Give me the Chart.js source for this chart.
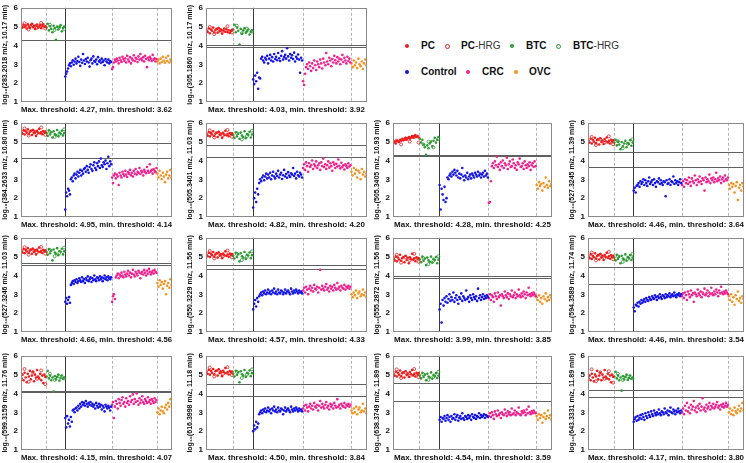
<!DOCTYPE html>
<html><head><meta charset="utf-8">
<script src="https://cdn.jsdelivr.net/npm/chart.js@4"></script>
<style>
body{margin:0;background:#fff;width:746px;height:463px;position:relative;overflow:hidden;font-family:"Liberation Sans",Arial,sans-serif;}
.lg{position:absolute;font-size:10px;font-weight:bold;line-height:12px;white-space:nowrap;color:#111;}
.lg span{font-weight:normal;color:#333;}
.dot{position:absolute;border-radius:50%;box-sizing:border-box;}
</style></head><body>
<script>
// ---------- data ----------
const mzLabels = ["283.2018","305.1860","384.2633","505.3401","505.3405","527.3245","527.3246","550.3229","555.2872","594.3589","599.3159","616.3998","638.3749","643.3331"];
const rtLabels = ["10.17","10.17","10.80","11.03","10.93","11.39","11.03","11.56","11.56","11.74","11.76","11.18","11.89","11.89"];
const maxThresholds = [4.27,4.03,4.95,4.82,4.28,4.46,4.66,4.57,3.99,4.46,4.15,4.50,4.54,4.17];
const minThresholds = [3.62,3.92,4.14,4.20,4.25,3.64,4.56,4.33,3.85,3.54,4.07,3.84,3.59,3.80];
const yTicks = [1,2,3,4,5,6];
const groupNames = ["PC","PC-HRG","BTC","BTC-HRG","Control","CRC","OVC"];

const pcValues = [
[5.02,4.95,5.10,4.98,5.05,4.90,5.12,5.00,4.93,5.08,5.15,4.97,5.03,4.88,5.06,5.11,4.96,5.01,5.09,4.92,5.04,5.13,4.99,5.02],
[4.80,4.72,4.90,4.65,4.85,4.78,4.95,4.70,4.82,4.88,4.68,4.92,4.75,4.84,4.62,4.79,4.90,4.73,4.86,4.70,4.81,4.66,4.76,4.83],
[5.50,5.42,5.60,5.38,5.55,5.48,5.65,5.40,5.52,5.58,5.35,5.62,5.45,5.53,5.30,5.57,5.47,5.68,5.44,5.51,5.39,5.56,5.49,5.54],
[5.40,5.32,5.50,5.28,5.45,5.38,5.55,5.30,5.42,5.48,5.25,5.52,5.35,5.43,5.20,5.47,5.37,5.58,5.34,5.41,5.29,5.46,5.39,5.44],
[4.95,5.00,4.90,5.05,5.02,4.98,5.10,5.05,5.15,5.08,5.12,5.20,5.10,5.18,5.25,5.15,5.22,5.30,5.20,5.28,5.35,5.25,5.30,5.22],
[5.05,4.95,5.15,4.90,5.10,5.00,5.20,4.92,5.08,5.12,4.85,5.18,4.98,5.06,4.88,5.14,5.02,5.22,4.96,5.04,4.90,5.10,5.00,5.08],
[5.30,5.22,5.40,5.18,5.35,5.28,5.45,5.20,5.32,5.38,5.15,5.42,5.25,5.33,5.12,5.37,5.27,5.48,5.24,5.31,5.19,5.36,5.29,5.34],
[5.10,5.02,5.20,4.98,5.15,5.08,5.25,5.00,5.12,5.18,4.95,5.22,5.05,5.13,4.92,5.17,5.07,5.28,5.04,5.11,4.99,5.16,5.09,5.14],
[4.90,4.80,5.00,4.75,4.95,4.85,5.10,4.78,4.92,4.98,4.70,5.05,4.82,4.94,4.65,4.97,4.86,5.15,4.84,4.91,4.76,4.96,4.88,4.93],
[5.00,4.92,5.12,4.88,5.05,4.97,5.18,4.90,5.03,5.08,4.85,5.14,4.95,5.04,4.82,5.09,4.99,5.20,4.94,5.02,4.89,5.07,4.98,5.05],
[4.80,5.00,4.70,5.10,4.85,4.60,5.05,4.90,5.20,4.75,4.95,5.15,4.65,5.00,4.85,5.25,4.90,4.80,5.05,4.70,4.95,4.55,5.00,4.88],
[5.15,5.05,5.25,5.00,5.20,5.10,5.30,5.02,5.18,5.22,4.95,5.28,5.08,5.16,4.92,5.21,5.11,5.35,5.07,5.14,5.01,5.19,5.12,5.17],
[5.05,4.95,5.15,4.90,5.10,5.00,5.22,4.92,5.08,5.12,4.85,5.18,4.98,5.06,4.88,5.14,5.02,5.25,4.96,5.04,4.90,5.10,5.00,5.08],
[4.80,4.95,4.70,5.05,4.85,4.65,5.00,4.90,5.20,4.75,4.95,5.10,4.70,5.00,4.85,5.25,4.90,4.80,5.05,4.75,4.95,4.60,5.00,4.88]];

const pcHrgValues = [
[5.18,4.85,5.07,4.94,5.20,4.90],[4.98,4.60,4.88,4.74,5.02,4.69],[5.70,5.32,5.58,5.44,5.75,5.36],[5.60,5.22,5.48,5.33,5.62,5.26],
[5.05,4.85,5.15,5.00,5.25,4.95],[5.25,4.82,5.12,4.94,5.28,4.86],[5.50,5.10,5.38,5.23,5.52,5.16],[5.30,4.90,5.18,5.03,5.32,4.96],
[5.10,4.68,4.98,4.80,5.15,4.72],[5.22,4.80,5.10,4.93,5.25,4.86],[5.30,4.62,5.12,4.78,5.22,4.50],[5.38,4.90,5.22,5.04,5.40,4.98],
[5.28,4.82,5.12,4.94,5.30,4.86],[5.28,4.65,5.12,4.78,5.18,4.58]];

const btcValues = [
[4.95,5.15,4.80,5.02,4.88,4.70,5.05,4.92,4.30,5.00,4.85,4.98,5.08,4.75,4.93,5.01],
[4.85,5.10,4.70,4.95,4.78,4.05,4.88,4.62,4.80,4.92,4.68,4.75,4.85,4.58,4.72,4.80],
[5.45,5.30,5.60,5.38,5.50,5.22,5.55,5.40,5.35,5.62,5.28,5.48,5.42,5.58,5.33,5.46],
[5.35,5.20,5.50,5.28,5.42,5.15,5.48,5.32,5.25,5.55,5.18,5.40,5.36,5.52,5.22,5.38],
[5.15,4.95,5.10,4.85,4.70,4.30,4.80,4.65,4.90,5.00,4.75,5.05,5.20,4.95,5.10,5.25],
[4.95,5.10,4.80,5.00,4.85,4.60,4.98,4.75,4.90,5.05,4.70,4.92,4.88,5.08,4.78,4.95],
[5.25,5.10,5.40,5.18,5.32,4.80,5.38,5.22,5.15,5.45,5.08,5.30,5.26,5.42,5.12,5.28],
[5.05,4.90,5.20,4.98,5.12,4.75,5.18,5.02,4.95,5.25,4.88,5.10,5.06,5.22,4.92,5.08],
[4.85,4.70,5.00,4.78,4.90,4.55,4.95,4.80,4.72,5.00,4.68,4.88,4.82,4.98,4.65,4.84],
[4.95,4.80,5.10,4.88,5.00,4.65,5.05,4.90,4.85,5.12,4.78,4.98,4.92,5.08,4.82,4.95],
[4.90,5.20,4.80,4.95,4.70,4.85,4.10,4.92,4.75,4.88,5.00,4.68,4.82,4.95,4.78,4.85],
[5.05,4.90,5.20,4.98,5.12,4.60,5.18,5.02,4.95,5.25,4.88,5.10,5.06,5.22,4.92,5.08],
[4.95,4.80,5.10,4.88,5.00,4.70,5.05,4.90,4.85,5.12,4.78,4.98,4.92,5.08,4.82,4.95],
[4.90,5.15,4.80,4.95,4.70,4.85,4.15,4.92,4.75,4.88,5.00,4.72,4.82,4.95,4.78,4.85]];

const btcHrgValues = [
[5.10,4.82,4.96,4.88],[5.05,4.65,4.90,4.74],[5.52,5.25,5.40,5.65],[5.45,5.12,5.30,5.58],[4.85,5.00,4.70,5.15],
[5.02,4.65,4.88,5.12],[5.35,5.02,5.20,5.48],[5.15,4.82,5.00,5.28],[4.92,4.60,4.78,5.02],[5.02,4.72,4.88,5.15],
[5.05,4.72,4.90,4.80],[5.15,4.82,5.00,5.28],[5.02,4.72,4.88,5.15],[5.05,4.72,4.90,4.80]];

const controlValues = [
[2.35,2.50,2.62,2.78,2.95,3.05,2.90,3.10,3.22,2.98,3.15,3.30,3.05,3.18,3.40,3.12,2.92,3.25,3.08,3.55,3.20,3.02,3.28,3.15,3.35,3.10,2.88,3.22,3.30,3.05,3.42,3.18,3.12,3.25,3.00,3.38,3.15,3.22,3.08,3.30,3.12,3.20,2.95,3.28,3.15,3.10,3.25,3.05,3.18,3.12],
[2.20,1.95,2.40,2.10,2.55,1.70,2.30,2.25,3.30,3.40,3.20,3.10,3.35,3.25,3.45,3.05,3.30,3.50,3.20,3.38,3.15,3.55,3.28,3.40,3.22,3.60,3.32,3.18,3.45,3.70,3.25,3.38,3.50,3.30,3.85,3.42,3.20,3.55,3.35,3.48,3.28,3.62,3.15,3.40,3.30,3.52,3.25,2.55,3.35,3.20],
[1.40,2.30,2.10,2.50,2.40,2.20,3.00,3.10,2.90,3.20,3.30,3.05,3.25,3.40,3.15,3.35,3.50,3.20,3.45,3.30,3.55,3.60,3.40,3.70,3.50,3.35,3.65,3.80,3.55,3.45,3.75,3.90,3.60,3.50,3.85,3.70,3.95,3.60,4.10,3.75,3.65,3.90,3.80,4.00,3.55,3.85,4.20,3.70,3.95,3.80],
[1.50,2.00,2.30,1.80,2.50,2.20,2.80,3.00,2.90,3.10,3.20,2.95,3.15,3.30,3.05,3.25,3.10,3.35,3.00,3.20,3.40,3.15,3.05,3.30,3.18,3.45,3.10,3.25,3.35,3.02,3.22,3.50,3.15,3.28,3.08,3.38,3.20,3.12,3.32,3.25,3.60,3.18,3.30,3.05,3.40,3.22,3.15,3.35,3.25,3.10],
[2.70,1.40,2.50,2.20,1.90,2.60,1.80,2.00,3.10,3.00,3.20,3.30,3.15,3.40,3.25,3.50,3.35,3.20,3.45,3.10,3.30,3.05,3.25,3.60,3.15,2.95,3.20,3.10,3.35,3.00,3.15,3.25,3.05,3.30,3.20,3.10,3.35,3.25,3.15,3.40,3.20,3.30,3.10,3.25,3.35,3.15,3.45,3.20,3.30,3.10],
[2.40,2.55,2.30,2.65,2.70,2.80,2.60,2.90,2.75,2.85,3.00,2.70,2.95,2.80,2.65,2.90,3.10,2.75,2.85,2.95,2.70,3.00,2.80,2.60,2.90,2.85,3.05,2.75,2.95,2.80,2.70,2.90,2.85,2.10,2.95,2.75,2.80,3.00,2.70,2.90,2.85,3.15,2.75,2.95,2.80,2.90,2.70,2.85,3.00,2.80],
[2.60,2.80,2.50,2.70,2.85,2.55,3.50,3.60,3.70,3.55,3.75,3.65,3.80,3.60,3.70,3.85,3.75,3.65,3.90,3.70,3.80,3.60,3.85,3.75,3.95,3.70,3.80,3.90,3.65,3.85,3.75,4.00,3.80,3.70,3.90,3.85,3.75,3.95,3.80,3.90,3.70,3.85,4.00,3.80,3.90,3.75,3.95,3.85,3.80,3.90],
[2.20,2.50,2.70,2.35,2.80,2.60,2.90,3.00,3.10,2.95,3.15,3.05,3.20,3.00,3.10,3.25,3.05,3.15,3.00,3.20,3.10,3.30,3.05,3.15,3.00,3.25,3.10,3.05,3.20,3.15,3.00,3.10,3.25,3.05,3.15,3.20,3.10,3.00,3.30,3.15,3.05,3.20,3.10,3.25,3.15,3.05,3.20,3.10,3.15,3.05],
[2.20,2.50,1.50,2.70,2.40,2.80,2.60,2.90,2.55,2.75,3.00,2.65,2.85,2.70,3.10,2.60,2.80,2.95,2.70,2.50,2.85,2.75,3.05,2.65,2.90,2.80,2.70,3.20,2.75,2.85,2.60,2.95,2.80,2.70,3.00,2.85,2.75,2.90,2.65,3.30,2.80,2.95,2.70,2.85,3.00,2.75,2.90,2.80,2.95,2.85],
[2.30,2.10,2.45,2.40,2.55,2.35,2.60,2.50,2.70,2.55,2.65,2.75,2.60,2.80,2.70,2.65,2.85,2.75,2.70,2.90,2.80,2.75,2.95,2.85,2.70,2.90,2.80,3.00,2.85,2.75,2.95,2.90,2.80,3.00,2.85,2.95,2.90,3.05,2.85,2.95,3.00,2.90,3.10,2.95,2.85,3.00,2.95,3.05,2.90,3.00],
[2.70,2.20,2.80,2.40,2.60,2.25,2.75,2.50,3.10,3.15,3.00,3.20,3.25,3.10,3.35,3.20,3.45,3.30,3.55,3.40,3.50,3.35,3.60,3.45,3.30,3.50,3.40,3.55,3.35,3.45,3.30,3.40,3.20,3.50,3.35,3.25,3.45,3.30,3.40,3.15,3.35,3.25,3.05,3.40,3.30,3.20,3.35,3.25,3.10,3.30],
[2.00,2.30,2.10,2.50,2.20,2.40,2.90,3.00,3.10,2.95,3.15,3.05,3.20,3.00,3.10,3.25,3.05,3.15,2.95,3.20,3.10,3.30,3.05,3.15,3.00,3.25,3.10,3.05,3.20,3.15,2.90,3.10,3.25,3.05,3.15,3.20,3.10,3.00,3.30,3.15,3.05,3.20,3.10,3.25,3.15,3.05,3.20,3.10,3.15,3.05],
[2.60,2.75,2.50,2.70,2.65,2.80,2.55,2.70,2.85,2.60,2.75,2.50,2.80,2.65,2.70,2.90,2.60,2.75,2.85,2.55,2.70,2.80,2.65,2.95,2.70,2.60,2.80,2.75,2.65,2.85,2.70,2.80,2.60,2.90,2.75,2.70,2.85,2.65,2.80,2.75,2.95,2.70,2.85,2.75,2.80,2.90,2.70,2.85,2.80,2.75],
[2.50,2.65,2.75,2.55,2.80,2.60,2.70,2.85,2.65,2.90,2.75,2.60,2.95,2.80,2.70,3.00,2.85,2.75,3.05,2.90,2.80,3.10,2.95,2.85,3.00,2.90,3.15,2.95,2.85,3.05,3.00,2.90,3.20,3.00,2.95,3.10,2.85,3.05,3.25,3.00,2.95,3.15,3.05,2.90,3.10,3.00,3.20,3.05,2.95,3.10]];

const crcValues = [
[2.75,2.85,3.10,3.25,3.15,3.30,3.20,3.05,3.35,3.22,3.12,3.40,3.28,3.18,3.32,3.10,3.45,3.25,3.15,3.38,3.05,3.30,3.22,3.48,3.18,3.35,3.28,3.12,3.42,3.25,3.55,3.30,3.20,3.38,3.15,3.45,3.28,2.85,3.35,3.22,3.40,3.30,3.18,3.50,3.25,3.32,3.15,3.28],
[2.10,1.90,2.50,2.85,3.00,2.75,3.10,2.90,2.65,3.05,2.80,3.20,2.95,2.70,3.15,3.00,2.85,3.25,3.05,2.78,3.30,3.10,2.95,3.60,3.15,3.00,3.35,3.20,2.90,3.28,3.10,3.45,3.22,3.05,3.38,3.15,3.30,3.00,3.25,3.50,3.12,3.35,3.20,3.05,3.40,3.18,3.30,3.10],
[3.10,2.80,3.20,3.30,3.05,3.25,3.15,2.70,3.35,3.20,3.10,3.40,3.28,3.18,3.45,3.25,3.12,3.38,3.30,3.50,3.22,3.35,3.15,3.45,3.30,3.55,3.25,3.40,3.35,3.60,3.28,3.45,3.38,3.20,3.50,3.40,3.32,3.65,3.45,3.35,3.80,3.42,3.50,3.30,3.55,3.45,3.38,3.60],
[3.60,3.80,3.50,3.90,3.70,3.40,3.85,3.65,3.75,4.00,3.55,3.80,3.70,3.95,3.60,3.75,3.85,3.50,3.90,3.70,4.10,3.65,3.80,3.55,3.75,3.95,3.62,3.85,3.70,3.45,3.90,3.78,3.60,3.82,3.68,4.05,3.72,3.58,3.88,3.65,3.75,3.52,3.80,3.70,3.60,3.85,3.68,3.75],
[1.75,1.80,2.90,3.70,3.85,3.60,3.95,3.75,4.20,3.65,3.80,3.50,3.90,3.70,4.00,3.60,3.85,3.75,4.15,3.55,3.80,3.95,3.65,3.70,4.05,3.85,3.60,3.75,3.50,3.90,3.80,4.10,3.65,3.70,3.85,3.55,3.95,3.75,3.60,3.80,3.70,3.90,3.50,3.75,3.85,3.65,3.95,3.70],
[2.70,2.90,2.60,3.00,2.80,2.95,2.75,3.10,2.85,2.65,3.05,2.90,2.80,3.20,2.95,2.70,3.00,2.85,3.15,2.90,2.75,3.05,2.95,2.40,3.10,2.85,3.00,2.90,3.25,2.80,3.05,2.95,3.10,2.85,3.00,3.35,2.90,3.05,2.95,3.15,2.80,3.00,3.10,2.90,3.20,3.00,2.95,3.10],
[2.60,2.90,3.00,2.75,3.90,4.00,4.10,3.85,4.05,3.95,4.15,4.00,3.90,4.20,4.05,3.95,4.10,4.25,4.00,4.15,3.90,4.10,4.30,4.05,3.95,4.20,4.10,4.00,4.25,4.15,3.85,4.10,4.20,4.05,4.30,4.15,4.00,4.25,4.10,4.35,4.20,4.05,4.15,4.25,4.10,4.30,4.20,4.15],
[3.20,3.35,3.10,3.40,3.25,3.00,3.30,3.45,3.20,3.35,3.15,3.50,3.30,3.25,3.40,3.10,3.35,4.30,3.25,3.45,3.30,3.20,3.40,3.55,3.25,3.35,3.15,3.45,3.30,3.40,3.20,3.50,3.35,3.25,3.60,3.30,3.40,3.20,3.45,3.35,3.30,3.50,3.25,3.40,3.35,3.45,3.30,3.40],
[2.80,3.00,2.70,2.95,2.85,2.60,3.05,2.90,2.75,3.10,2.85,2.95,2.40,3.00,2.90,2.80,3.15,2.95,2.85,3.05,2.75,3.00,2.90,3.20,2.85,2.95,3.10,2.80,3.00,2.90,3.25,2.95,2.85,3.05,2.90,3.15,3.00,2.80,3.10,2.95,3.35,3.00,2.90,3.05,2.95,3.10,3.00,2.90],
[2.90,3.05,2.80,3.10,2.95,2.70,3.15,3.00,2.85,3.20,2.95,3.05,2.60,3.10,3.00,2.90,3.25,3.05,2.95,3.15,2.85,3.10,3.00,3.30,2.95,3.05,3.20,2.90,3.10,3.00,3.35,3.05,2.95,3.15,3.00,3.25,3.10,2.90,3.20,3.05,3.40,3.10,3.00,3.15,3.05,3.20,3.10,3.00],
[3.40,3.55,2.70,3.30,3.60,3.45,3.20,3.70,3.50,3.35,3.65,3.80,3.45,3.55,3.30,3.75,3.50,3.60,3.40,3.85,3.55,3.65,3.95,3.45,3.70,3.55,4.00,3.60,3.40,3.75,3.50,3.65,3.85,3.55,3.45,3.70,3.60,3.50,3.80,3.55,3.65,3.45,3.70,3.60,3.50,3.75,3.55,3.65],
[3.20,3.35,3.10,3.40,3.25,3.05,3.30,3.45,3.20,3.35,3.15,3.50,3.30,3.25,3.40,3.10,3.35,3.60,3.25,3.45,3.30,3.20,3.40,3.55,3.25,3.35,3.15,3.45,3.30,3.40,3.20,3.50,3.35,3.25,3.70,3.30,3.40,3.20,3.45,3.35,3.30,3.50,3.25,3.40,3.35,3.45,3.30,3.40],
[2.80,2.95,2.75,3.00,2.85,2.65,3.05,2.90,2.80,3.10,2.85,2.95,2.70,3.00,2.90,2.85,3.15,2.95,2.80,3.05,2.90,3.00,2.85,3.20,2.90,2.95,3.10,2.85,3.00,2.95,3.25,2.90,2.85,3.05,2.95,3.10,3.00,2.85,3.15,2.95,3.30,3.00,2.90,3.05,2.95,3.10,3.00,2.95],
[3.00,3.20,2.90,3.35,3.10,3.50,3.05,3.25,2.95,3.40,3.15,3.30,3.60,3.10,3.25,3.00,3.35,3.20,3.45,3.10,3.30,3.75,3.15,3.25,3.05,3.40,3.20,3.30,3.50,3.15,3.35,3.25,3.45,3.20,3.30,3.40,3.55,3.25,3.35,3.15,3.40,3.30,3.45,3.25,3.35,3.50,3.30,3.40]];

const ovcValues = [
[3.15,3.25,3.05,3.30,3.12,3.40,3.20,3.08,3.35,3.18,3.45,3.10,3.25,3.15],
[3.05,2.85,3.20,2.95,3.10,2.80,3.30,3.00,2.90,3.15,2.75,3.05,3.25,2.95],
[3.30,3.10,3.45,3.20,3.00,3.35,3.15,2.85,3.25,3.40,3.05,3.20,3.50,3.10],
[3.40,3.20,3.60,3.30,3.50,3.10,3.45,3.35,3.00,3.55,3.25,3.40,3.15,3.30],
[2.70,2.50,2.85,2.65,2.75,2.40,2.80,2.60,3.10,2.70,2.55,2.90,2.65,2.75],
[2.70,2.50,2.80,2.60,2.75,2.30,2.65,2.85,1.90,2.55,2.70,2.40,2.80,2.60],
[3.60,3.40,3.75,3.50,3.65,3.30,3.55,3.70,3.00,3.45,3.60,3.35,3.80,3.50],
[3.00,2.85,3.10,2.95,3.20,2.80,3.05,3.15,2.90,3.00,3.25,2.95,3.10,2.85],
[2.85,2.70,2.95,2.60,2.80,2.50,2.90,2.75,3.05,2.65,2.85,2.70,2.95,2.80],
[2.90,2.70,3.00,2.60,2.85,2.45,2.95,2.75,3.15,2.65,2.80,2.55,2.90,2.75],
[3.00,3.20,2.90,3.10,3.30,3.05,2.95,3.25,3.40,3.15,3.50,3.30,3.70,3.45],
[3.10,2.95,3.20,3.00,3.30,2.90,3.15,3.25,3.00,3.10,3.45,3.05,3.20,2.95],
[2.80,2.60,2.90,2.70,2.85,2.45,2.75,2.95,2.65,2.80,3.10,2.70,2.85,2.60],
[3.00,3.20,2.90,3.10,2.85,3.25,3.05,2.95,3.15,3.35,3.05,3.20,3.50,3.10]];

// ---------- layout / style ----------
const FONT = '"Liberation Sans", Arial, "DejaVu Sans", sans-serif';
const colBox = [[21,172],[206,367],[393,552],[588,744]];
const rowBox = [[5,102],[120,217],[235,332],[353,450]];
const panelCell = [[0,0],[0,1],[1,0],[1,1],[1,2],[1,3],[2,0],[2,1],[2,2],[2,3],[3,0],[3,1],[3,2],[3,3]];
// which threshold lines are drawn in each panel
const drawnLines = [['max'],['max','min'],['max','min'],['max','min'],['max','min'],['max','min'],['max','min'],['max','min'],['max','min'],['max','min'],['max','min'],['max','min'],['max','min'],['max','min']];
const groupBounds = [0,16.5,29,60,90,100];
const colors = {pc:'#ee1c1c', btc:'#2e9a36', control:'#1414e6', crc:'#f0208e', ovc:'#f5921e'};
const AX_W = 22, AX_H = 13, PAD_T = 5, PAD_R = 4;

function place(vals, a, b, shift){
  const n = vals.length, step = (b - a) / n;
  return vals.map((v, i) => ({x: a + (i + 0.5 + shift) * step, y: v}));
}

const guides = {
  id: 'guides',
  beforeDatasetsDraw(chart, args, opts){
    const {ctx, chartArea:{left,right,top,bottom}, scales:{x,y}} = chart;
    ctx.save();
    ctx.lineWidth = 1;
    [groupBounds[1], groupBounds[3], groupBounds[4]].forEach(v => {
      const px = Math.round(x.getPixelForValue(v)) + 0.5;
      ctx.strokeStyle = '#b4b4b4'; ctx.setLineDash([3,2]);
      ctx.beginPath(); ctx.moveTo(px, top); ctx.lineTo(px, bottom); ctx.stroke();
    });
    ctx.setLineDash([]);
    const sx = Math.round(x.getPixelForValue(groupBounds[2])) + 0.5;
    ctx.strokeStyle = '#3a3a3a';
    ctx.beginPath(); ctx.moveTo(sx, top); ctx.lineTo(sx, bottom); ctx.stroke();
    ctx.strokeStyle = '#606060';
    opts.lines.forEach(v => {
      const py = Math.round(y.getPixelForValue(v)) + 0.5;
      ctx.beginPath(); ctx.moveTo(left, py); ctx.lineTo(right, py); ctx.stroke();
    });
    ctx.restore();
  },
  afterDatasetsDraw(chart){
    const {ctx, chartArea:{left,right,top,bottom}} = chart;
    ctx.save();
    ctx.strokeStyle = '#8a8a8a'; ctx.lineWidth = 1;
    ctx.strokeRect(Math.round(left)+0.5, Math.round(top)+0.5, Math.round(right-left)-1, Math.round(bottom-top)-1);
    ctx.restore();
  }
};

function filled(label, data, color){
  return {label, data, backgroundColor: color, borderColor: color, pointRadius: 1.3, pointBorderWidth: 0, pointHoverRadius: 1.3};
}
function open(label, data, color){
  return {label, data, backgroundColor: 'rgba(255,255,255,0)', borderColor: color, pointRadius: 1.5, pointBorderWidth: 0.8, pointHoverRadius: 1.5};
}

panelCell.forEach(([r, c], k) => {
  const [L, R] = colBox[c], [T, B] = rowBox[r];
  const w = R - L + AX_W + PAD_R, h = B - T + PAD_T + AX_H;
  const cv = document.createElement('canvas');
  cv.width = w; cv.height = h;
  cv.style.cssText = `position:absolute;left:${L-AX_W}px;top:${T-PAD_T}px;width:${w}px;height:${h}px`;
  document.body.appendChild(cv);
  const g = groupBounds;
  const lines = drawnLines[k].map(n => n === 'max' ? maxThresholds[k] : minThresholds[k]);
  new Chart(cv, {
    type: 'scatter',
    data: {datasets: [
      filled(groupNames[0], place(pcValues[k], g[0], g[1], 0), colors.pc),
      open(groupNames[1], place(pcHrgValues[k], g[0], g[1], 0.35), colors.pc),
      filled(groupNames[2], place(btcValues[k], g[1], g[2], 0), colors.btc),
      open(groupNames[3], place(btcHrgValues[k], g[1], g[2], 0.35), colors.btc),
      filled(groupNames[4], place(controlValues[k], g[2], g[3], 0), colors.control),
      filled(groupNames[5], place(crcValues[k], g[3], g[4], 0), colors.crc),
      filled(groupNames[6], place(ovcValues[k], g[4], g[5], 0), colors.ovc)
    ]},
    options: {
      responsive: false, animation: false, devicePixelRatio: 1,
      layout: {padding: {top: PAD_T, right: PAD_R, left: 0, bottom: 0}},
      plugins: {legend: {display: false}, tooltip: {enabled: false},
        guides: {lines}},
      scales: {
        x: {type: 'linear', min: 0, max: 100,
          grid: {display: false, drawTicks: false}, border: {display: false},
          ticks: {display: false},
          title: {display: true, text: `Max. threshold: ${maxThresholds[k].toFixed(2)}, min. threshold: ${minThresholds[k].toFixed(2)}`,
            font: {family: FONT, size: 8, weight: 'bold'}, color: '#111', padding: 0},
          afterFit: s => { s.height = AX_H; }},
        y: {min: yTicks[0], max: yTicks[yTicks.length-1],
          afterBuildTicks: s => { s.ticks = yTicks.map(v => ({value: v})); },
          grid: {display: false, drawTicks: false}, border: {display: false},
          ticks: {font: {family: FONT, size: 8, weight: 'bold'}, color: '#111', padding: 3},
          title: {display: true, text: `log\u2081\u2080(${mzLabels[k]} m/z, ${rtLabels[k]} min)`,
            font: {family: FONT, size: 7, weight: 'bold'}, color: '#111', padding: {top: 2, bottom: 0}},
          afterFit: s => { s.width = AX_W; }}
      }
    },
    plugins: [guides]
  });
});

// ---------- legend ----------
const legendItems = [
  {name:'PC', suffix:'', color:colors.pc, open:false, dx:407, tx:421, y:46},
  {name:'PC', suffix:'-HRG', color:colors.pc, open:true, dx:447, tx:461, y:46},
  {name:'BTC', suffix:'', color:colors.btc, open:false, dx:512, tx:526, y:46},
  {name:'BTC', suffix:'-HRG', color:colors.btc, open:true, dx:558, tx:573, y:46},
  {name:'Control', suffix:'', color:colors.control, open:false, dx:407, tx:421, y:72},
  {name:'CRC', suffix:'', color:colors.crc, open:false, dx:468, tx:482, y:72},
  {name:'OVC', suffix:'', color:colors.ovc, open:false, dx:516, tx:529, y:72}
];
legendItems.forEach(it => {
  const d = document.createElement('div');
  d.className = 'dot';
  const sz = it.open ? 5 : 4;
  d.style.cssText = `left:${it.dx - sz/2}px;top:${it.y - sz/2}px;width:${sz}px;height:${sz}px;` +
    (it.open ? `border:1px solid ${it.color};background:#fff;` : `background:${it.color};`);
  document.body.appendChild(d);
  const t = document.createElement('div');
  t.className = 'lg';
  t.style.left = it.tx + 'px'; t.style.top = (it.y - 6) + 'px';
  t.innerHTML = it.name + (it.suffix ? `<span>${it.suffix}</span>` : '');
  document.body.appendChild(t);
});
</script>
</body></html>
